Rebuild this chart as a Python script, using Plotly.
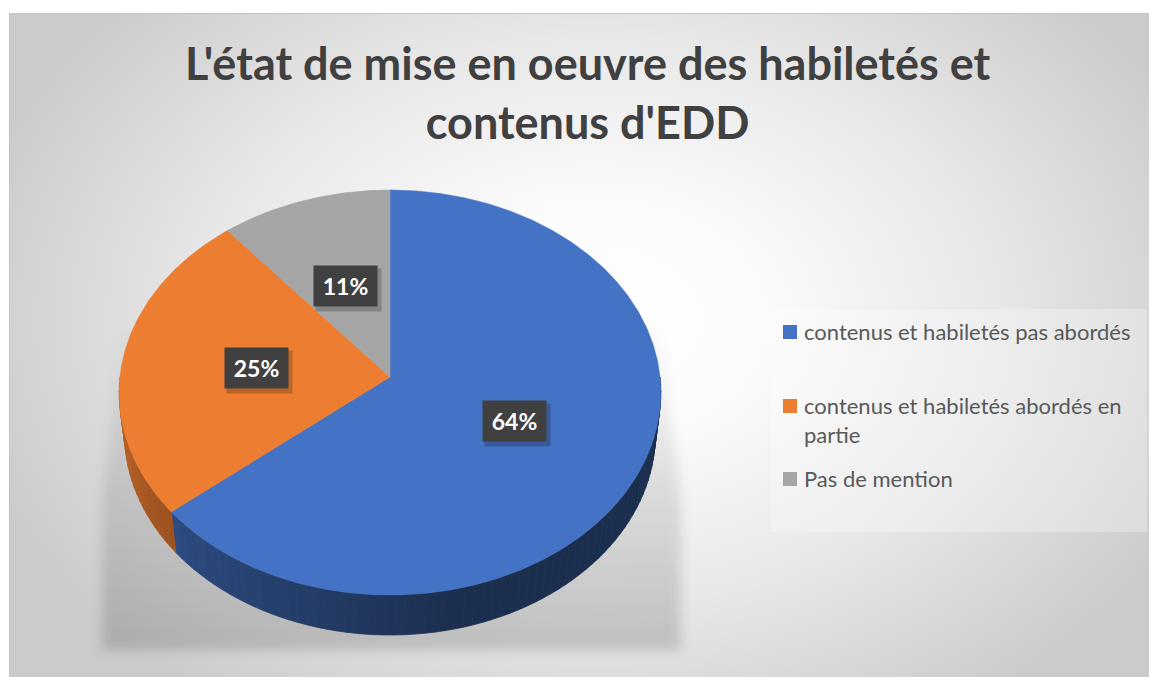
import base64
import numpy as np
import plotly.graph_objects as go

# ---- data ----
categories = [
    "contenus et habiletés pas abordés",
    "contenus et habiletés abordés en partie",
    "Pas de mention",
]
values = [64, 25, 11]
value_labels = ["64%", "25%", "11%"]
colors = ["#4472C4", "#ED7D31", "#A5A5A5"]

# ---- canvas / 3-D pie geometry ----
W, H = 1149, 677
CX, CY = 390.0, 377.0          # projected centre of the pie top
DIST = 8.69                    # camera distance (in pie radii)
TILT = np.radians(48.2)        # tilt of the pie plate
SCALE = 270.0 * DIST           # projection scale
THICK = 0.234                  # pie thickness (in pie radii)
FONT = "Lato"


def project(t_deg, r=1.0, level=0.0):
    t = np.radians(np.asarray(t_deg, dtype=float))
    x = r * np.cos(t)
    s = r * np.sin(t)
    y3 = s * np.sin(TILT) - level * THICK * np.cos(TILT)
    z = DIST + s * np.cos(TILT) + level * THICK * np.sin(TILT)
    return CX + SCALE * x / z, CY - SCALE * y3 / z


def shade(hex_color, f):
    h = hex_color.lstrip("#")
    r, g, b = (int(h[i:i + 2], 16) for i in (0, 2, 4))
    return "rgb(%d,%d,%d)" % (round(r * f), round(g * f), round(b * f))


# slice angles: start at 12 o'clock, run clockwise
total = float(sum(values))
spans = [360.0 * v / total for v in values]
starts = [90.0 - sum(spans[:i]) for i in range(len(values))]
ends = [s - sp for s, sp in zip(starts, spans)]

fig = go.Figure()

# ---- side walls (front half of the cylinder), drawn in shaded strips ----
for col, a0, a1 in zip(colors, starts, ends):
    lo, hi = a1, a0
    for k in range(-2, 2):
        vlo, vhi = max(lo, -180 + 360 * k), min(hi, 360 * k)
        if vhi <= vlo:
            continue
        n = max(2, int(np.ceil((vhi - vlo) / 2.0)))
        edges = np.linspace(vlo, vhi, n + 1)
        for e0, e1 in zip(edges[:-1], edges[1:]):
            ts = np.linspace(e0, e1, 4)
            xt, yt = project(ts, 1.0, 0.0)
            xb, yb = project(ts[::-1], 1.0, 1.0)
            u = ((e0 + e1) / 2.0) % 360.0
            f = 0.40 + 0.42 * np.clip((285.0 - u) / 105.0, 0.0, 1.0)
            c = shade(col, f)
            fig.add_trace(go.Scatter(
                x=np.concatenate([xt, xb, xt[:1]]),
                y=np.concatenate([yt, yb, yt[:1]]),
                mode="lines", fill="toself", fillcolor=c,
                line=dict(color=c, width=0.8),
                hoverinfo="skip", showlegend=False,
            ))

# ---- top faces of the slices ----
for name, col, a0, a1, v in zip(categories, colors, starts, ends, values):
    ts = np.linspace(a0, a1, max(8, int(abs(a0 - a1) * 2)))
    xr, yr = project(ts)
    fig.add_trace(go.Scatter(
        x=np.concatenate([[CX], xr, [CX]]),
        y=np.concatenate([[CY], yr, [CY]]),
        mode="lines", fill="toself", fillcolor=col,
        line=dict(color=col, width=0.6),
        name=name, hoverinfo="text", text=f"{name}: {v}%",
        showlegend=False,
    ))

# ---- data labels (dark boxes) ----
for lab, a0, a1 in zip(value_labels, starts, ends):
    lx, ly = project((a0 + a1) / 2.0, 0.5)
    lx, ly = float(lx), float(ly)
    fig.add_annotation(x=lx + 3, y=ly + 4, text=" ", showarrow=False,
                       width=63, height=40, bgcolor="rgba(0,0,0,0.2)",
                       font=dict(size=10))
    fig.add_annotation(x=lx, y=ly, text=f"<b>{lab}</b>", showarrow=False,
                       width=63, height=40, bgcolor="#404040", borderpad=0,
                       font=dict(family=FONT, size=23, color="#FFFFFF"))

# ---- title ----
fig.add_annotation(
    x=587, y=92, xanchor="center", yanchor="middle", showarrow=False,
    text="<b>L'état de mise en oeuvre des habiletés et<br>contenus d'EDD</b>",
    font=dict(family=FONT, size=45, color="#404040"),
)

# ---- legend ----
LEG_X0, LEG_Y0, LEG_X1, LEG_Y1 = 771, 309, 1147, 532
fig.add_shape(type="rect", x0=LEG_X0, y0=LEG_Y0, x1=LEG_X1, y1=LEG_Y1,
              fillcolor="rgba(255,255,255,0.28)", line=dict(width=0),
              layer="below")
legend_rows = [332, 406, 479]
legend_text = [
    "contenus et habiletés pas abordés",
    "contenus et habiletés abordés en<br>partie",
    "Pas de mention",
]
for col, yc, txt in zip(colors, legend_rows, legend_text):
    fig.add_shape(type="rect", x0=783, x1=797, y0=yc - 7, y1=yc + 7,
                  fillcolor=col, line=dict(width=0))
    fig.add_annotation(
        x=802, y=yc - 16, xanchor="left", yanchor="top", align="left",
        showarrow=False, text=txt,
        font=dict(family=FONT, size=22, color="#595959"),
    )

# ---- background: radial gradient frame + soft pie shadow ----
lx_min = float(np.min(project(np.linspace(90, 270, 181))[0]))
rx_max = float(np.max(project(np.linspace(-90, 90, 181))[0]))
bot = float(project(-90, 1.0, 1.0)[1])
shadow_pts = [
    (lx_min + 2, CY - 60), (rx_max - 2, CY - 60),
    (rx_max + 20, CY + 120), (rx_max + 20, bot + 15),
    (lx_min - 17, bot + 15), (lx_min - 17, CY + 120),
]
pts = " ".join(f"{x:.1f},{y:.1f}" for x, y in shadow_pts)
svg = f"""<svg xmlns="http://www.w3.org/2000/svg" width="{W}" height="{H}" viewBox="0 0 {W} {H}" preserveAspectRatio="none">
<defs>
<radialGradient id="bg" gradientUnits="userSpaceOnUse" cx="0" cy="0" r="1" gradientTransform="translate(600 320) scale(650 470)">
<stop offset="0" stop-color="#ffffff"/>
<stop offset="0.25" stop-color="#fbfbfb"/>
<stop offset="0.6" stop-color="#e8e8e8"/>
<stop offset="1" stop-color="#cbcbcb"/>
</radialGradient>
<linearGradient id="sh" x1="0" y1="0" x2="0" y2="1">
<stop offset="0" stop-color="#000" stop-opacity="0"/>
<stop offset="0.5" stop-color="#000" stop-opacity="0.1"/>
<stop offset="1" stop-color="#000" stop-opacity="0.15"/>
</linearGradient>
<filter id="blur" x="-20%" y="-20%" width="140%" height="140%"><feGaussianBlur stdDeviation="6"/></filter>
</defs>
<rect width="{W}" height="{H}" fill="#ffffff"/>
<rect x="9.5" y="13.5" width="1160" height="700" fill="url(#bg)" stroke="#c4c4c4" stroke-width="1"/>
<polygon points="{pts}" fill="url(#sh)" filter="url(#blur)"/>
</svg>"""
bg_uri = "data:image/svg+xml;base64," + base64.b64encode(svg.encode("utf-8")).decode("ascii")

fig.add_layout_image(dict(
    source=bg_uri, xref="paper", yref="paper", x=0, y=1, sizex=1, sizey=1,
    xanchor="left", yanchor="top", sizing="stretch", layer="below",
))

fig.update_layout(
    width=W, height=H, margin=dict(l=0, r=0, t=0, b=0),
    paper_bgcolor="#FFFFFF", plot_bgcolor="rgba(0,0,0,0)",
    xaxis=dict(range=[0, W], visible=False, fixedrange=True),
    yaxis=dict(range=[H, 0], visible=False, fixedrange=True),
    showlegend=False,
)

fig.write_html("out.html")
